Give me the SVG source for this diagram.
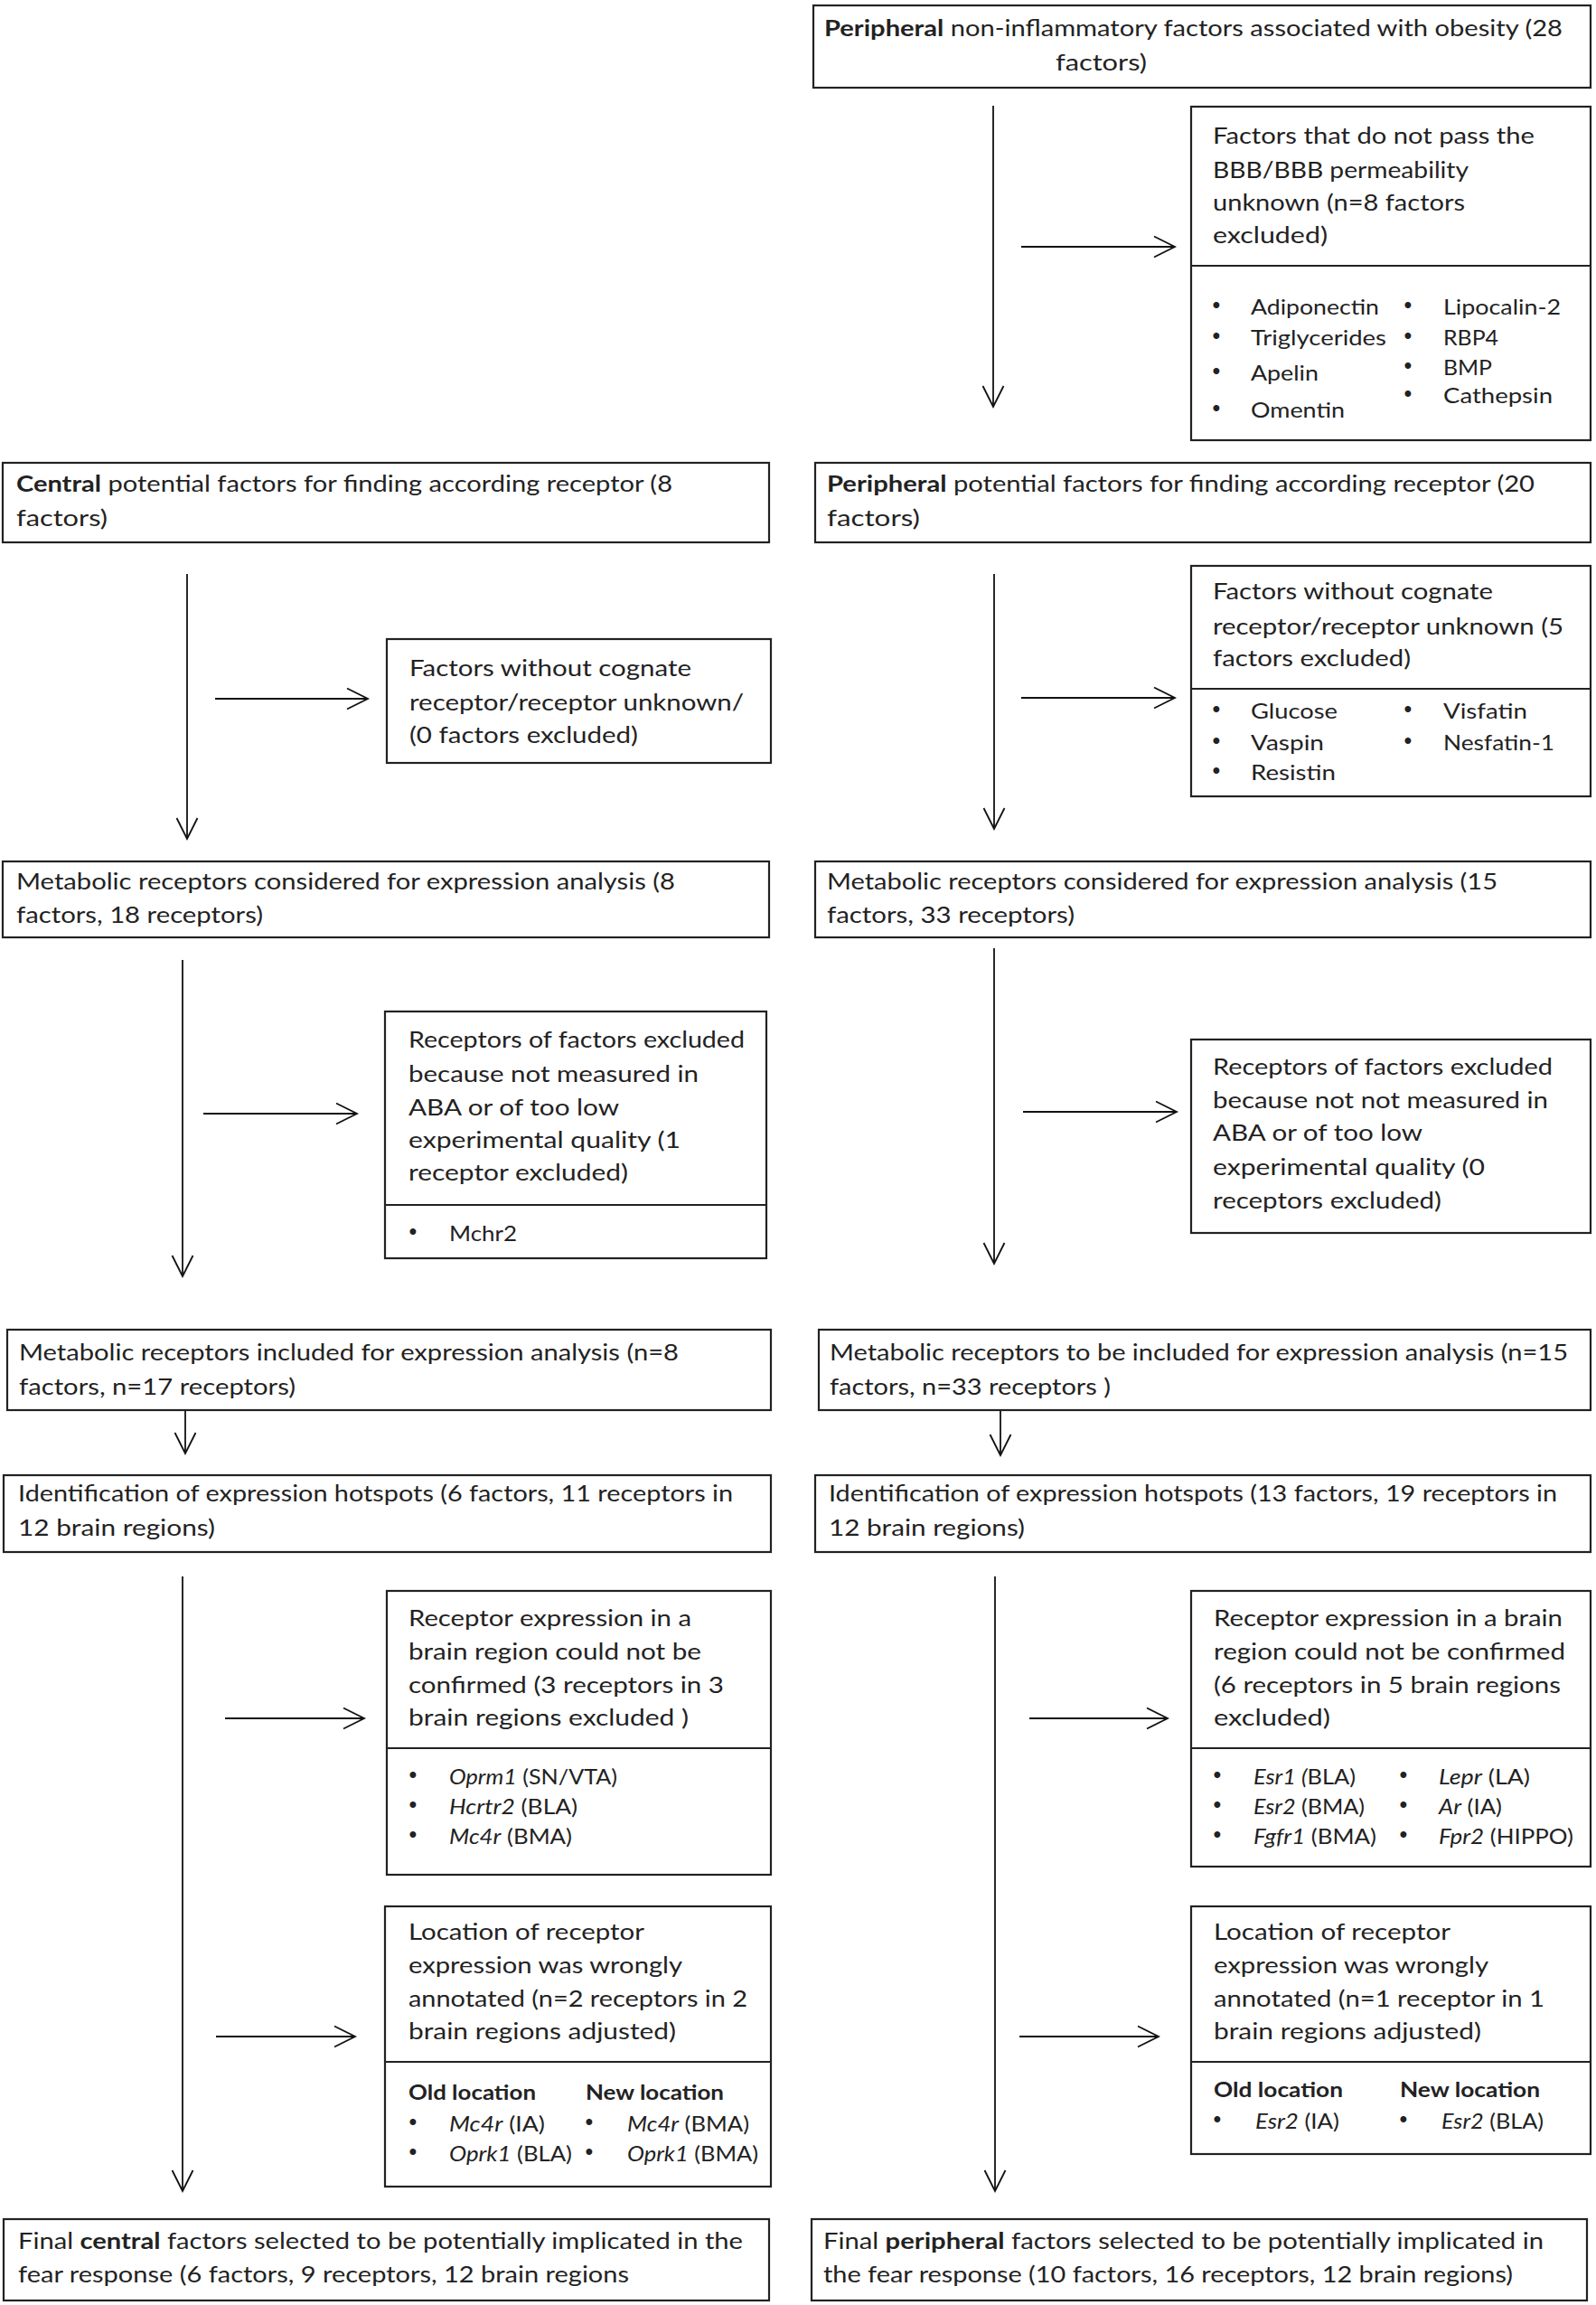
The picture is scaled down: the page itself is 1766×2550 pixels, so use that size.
<svg xmlns="http://www.w3.org/2000/svg" width="1766" height="2550" viewBox="0 0 1766 2550">
<defs>
<style>
.box{fill:#fff;stroke:#222;stroke-width:2.2}
.dv{stroke:#222;stroke-width:2.2}
.t{font-family:Lato,"Open Sans","Liberation Sans",sans-serif;font-size:25px;fill:#222}
.l{font-size:23px}
.b{font-weight:bold}
.i{font-style:italic}
.bu{font-family:"Liberation Sans",sans-serif;font-size:25px;fill:#222;text-anchor:middle}
.c{stroke:#111;stroke-width:1.8;fill:none;marker-end:url(#ah)}
</style>
<marker id="ah" markerUnits="userSpaceOnUse" markerWidth="30" markerHeight="30" viewBox="-27 -15 30 30" refX="0" refY="0" orient="auto">
<path d="M-23,-11.5 L0,0 L-23,11.5" fill="none" stroke="#111" stroke-width="1.8"/>
</marker>
</defs>
<rect x="0" y="0" width="1766" height="2550" fill="#fff"/>

<g id="connectors">
<line class="c" x1="1099" y1="117" x2="1099" y2="450"/>
<line class="c" x1="1130" y1="273" x2="1300" y2="273"/>
<line class="c" x1="207" y1="635" x2="207" y2="928"/>
<line class="c" x1="238" y1="773" x2="407" y2="773"/>
<line class="c" x1="1100" y1="635" x2="1100" y2="917"/>
<line class="c" x1="1130" y1="772" x2="1300" y2="772"/>
<line class="c" x1="202" y1="1062" x2="202" y2="1412"/>
<line class="c" x1="225" y1="1232" x2="395" y2="1232"/>
<line class="c" x1="1100" y1="1049" x2="1100" y2="1398"/>
<line class="c" x1="1132" y1="1230" x2="1302" y2="1230"/>
<line class="c" x1="205" y1="1549" x2="205" y2="1608"/>
<line class="c" x1="1107" y1="1551" x2="1107" y2="1610"/>
<line class="c" x1="202" y1="1744" x2="202" y2="2424"/>
<line class="c" x1="249" y1="1901" x2="403" y2="1901"/>
<line class="c" x1="239" y1="2253" x2="393" y2="2253"/>
<line class="c" x1="1101" y1="1744" x2="1101" y2="2424"/>
<line class="c" x1="1139" y1="1901" x2="1292" y2="1901"/>
<line class="c" x1="1128" y1="2253" x2="1282" y2="2253"/>
</g>

<g id="n-top">
<rect class="box" x="900" y="6" width="860" height="91"/>
<text class="t" x="912" y="40" textLength="817" lengthAdjust="spacingAndGlyphs"><tspan class="b">Peripheral</tspan>  non-inflammatory factors associated with obesity (28</text>
<text class="t" x="1168" y="78" textLength="101" lengthAdjust="spacingAndGlyphs">factors)</text>
</g>

<g id="n-bbb">
<rect class="box" x="1318" y="118" width="442" height="369"/>
<line class="dv" x1="1318" y1="294" x2="1760" y2="294"/>
<text class="t" x="1342" y="159" textLength="356" lengthAdjust="spacingAndGlyphs">Factors that do not pass the</text>
<text class="t" x="1342" y="197" textLength="283" lengthAdjust="spacingAndGlyphs">BBB/BBB permeability</text>
<text class="t" x="1342" y="233" textLength="279" lengthAdjust="spacingAndGlyphs">unknown (n=8 factors</text>
<text class="t" x="1342" y="269" textLength="127" lengthAdjust="spacingAndGlyphs">excluded)</text>
<text class="bu" x="1346" y="346">•</text>
<text class="bu" x="1346" y="380">•</text>
<text class="bu" x="1346" y="419">•</text>
<text class="bu" x="1346" y="460">•</text>
<text class="bu" x="1558" y="346">•</text>
<text class="bu" x="1558" y="380">•</text>
<text class="bu" x="1558" y="413">•</text>
<text class="bu" x="1558" y="444">•</text>
<text class="t l" x="1384" y="348" textLength="142" lengthAdjust="spacingAndGlyphs">Adiponectin</text>
<text class="t l" x="1384" y="382" textLength="150" lengthAdjust="spacingAndGlyphs">Triglycerides</text>
<text class="t l" x="1384" y="421" textLength="75" lengthAdjust="spacingAndGlyphs">Apelin</text>
<text class="t l" x="1384" y="462" textLength="104" lengthAdjust="spacingAndGlyphs">Omentin</text>
<text class="t l" x="1597" y="348" textLength="130" lengthAdjust="spacingAndGlyphs">Lipocalin-2</text>
<text class="t l" x="1597" y="382" textLength="61" lengthAdjust="spacingAndGlyphs">RBP4</text>
<text class="t l" x="1597" y="415" textLength="54" lengthAdjust="spacingAndGlyphs">BMP</text>
<text class="t l" x="1597" y="446" textLength="121" lengthAdjust="spacingAndGlyphs">Cathepsin</text>
</g>

<g id="n-central">
<rect class="box" x="3" y="512" width="848" height="88"/>
<text class="t" x="18" y="544" textLength="726" lengthAdjust="spacingAndGlyphs"><tspan class="b">Central</tspan>  potential factors for finding according receptor (8</text>
<text class="t" x="18" y="582" textLength="101" lengthAdjust="spacingAndGlyphs">factors)</text>
</g>

<g id="n-peripheral">
<rect class="box" x="902" y="512" width="858" height="88"/>
<text class="t" x="915" y="544" textLength="783" lengthAdjust="spacingAndGlyphs"><tspan class="b">Peripheral</tspan>  potential factors for finding according receptor (20</text>
<text class="t" x="915" y="582" textLength="103" lengthAdjust="spacingAndGlyphs">factors)</text>
</g>

<g id="n-cognate-c">
<rect class="box" x="428" y="707" width="425" height="137"/>
<text class="t" x="453" y="748" textLength="312" lengthAdjust="spacingAndGlyphs">Factors without cognate</text>
<text class="t" x="453" y="786" textLength="370" lengthAdjust="spacingAndGlyphs">receptor/receptor unknown/</text>
<text class="t" x="453" y="822" textLength="253" lengthAdjust="spacingAndGlyphs">(0 factors excluded)</text>
</g>

<g id="n-cognate-p">
<rect class="box" x="1318" y="626" width="442" height="255"/>
<line class="dv" x1="1318" y1="762" x2="1760" y2="762"/>
<text class="t" x="1342" y="663" textLength="310" lengthAdjust="spacingAndGlyphs">Factors without cognate</text>
<text class="t" x="1342" y="702" textLength="388" lengthAdjust="spacingAndGlyphs">receptor/receptor unknown (5</text>
<text class="t" x="1342" y="737" textLength="219" lengthAdjust="spacingAndGlyphs">factors excluded)</text>
<text class="bu" x="1346" y="793">•</text>
<text class="bu" x="1346" y="828">•</text>
<text class="bu" x="1346" y="861">•</text>
<text class="bu" x="1558" y="793">•</text>
<text class="bu" x="1558" y="828">•</text>
<text class="t l" x="1384" y="795" textLength="96" lengthAdjust="spacingAndGlyphs">Glucose</text>
<text class="t l" x="1384" y="830" textLength="81" lengthAdjust="spacingAndGlyphs">Vaspin</text>
<text class="t l" x="1384" y="863" textLength="94" lengthAdjust="spacingAndGlyphs">Resistin</text>
<text class="t l" x="1597" y="795" textLength="93" lengthAdjust="spacingAndGlyphs">Visfatin</text>
<text class="t l" x="1597" y="830" textLength="123" lengthAdjust="spacingAndGlyphs">Nesfatin-1</text>
</g>

<g id="n-metab-c">
<rect class="box" x="3" y="953" width="848" height="84"/>
<text class="t" x="18" y="984" textLength="729" lengthAdjust="spacingAndGlyphs">Metabolic receptors considered for expression analysis (8</text>
<text class="t" x="18" y="1021" textLength="273" lengthAdjust="spacingAndGlyphs">factors, 18 receptors)</text>
</g>

<g id="n-metab-p">
<rect class="box" x="902" y="953" width="858" height="84"/>
<text class="t" x="915" y="984" textLength="742" lengthAdjust="spacingAndGlyphs">Metabolic receptors considered for expression analysis (15</text>
<text class="t" x="915" y="1021" textLength="274" lengthAdjust="spacingAndGlyphs">factors, 33 receptors)</text>
</g>

<g id="n-aba-c">
<rect class="box" x="426" y="1119" width="422" height="273"/>
<line class="dv" x1="426" y1="1333" x2="848" y2="1333"/>
<text class="t" x="452" y="1159" textLength="372" lengthAdjust="spacingAndGlyphs">Receptors of factors excluded</text>
<text class="t" x="452" y="1197" textLength="321" lengthAdjust="spacingAndGlyphs">because not measured in</text>
<text class="t" x="452" y="1234" textLength="233" lengthAdjust="spacingAndGlyphs">ABA  or of too low</text>
<text class="t" x="452" y="1270" textLength="301" lengthAdjust="spacingAndGlyphs">experimental quality (1</text>
<text class="t" x="452" y="1306" textLength="243" lengthAdjust="spacingAndGlyphs">receptor excluded)</text>
<text class="bu" x="457" y="1371">•</text>
<text class="t l" x="497" y="1373" textLength="75" lengthAdjust="spacingAndGlyphs">Mchr2</text>
</g>

<g id="n-aba-p">
<rect class="box" x="1318" y="1150" width="442" height="214"/>
<text class="t" x="1342" y="1189" textLength="376" lengthAdjust="spacingAndGlyphs">Receptors of factors excluded</text>
<text class="t" x="1342" y="1226" textLength="371" lengthAdjust="spacingAndGlyphs">because not not measured in</text>
<text class="t" x="1342" y="1262" textLength="232" lengthAdjust="spacingAndGlyphs">ABA  or of too low</text>
<text class="t" x="1342" y="1300" textLength="301" lengthAdjust="spacingAndGlyphs">experimental quality (0</text>
<text class="t" x="1342" y="1337" textLength="253" lengthAdjust="spacingAndGlyphs">receptors excluded)</text>
</g>

<g id="n-incl-c">
<rect class="box" x="8" y="1471" width="845" height="89"/>
<text class="t" x="21" y="1505" textLength="730" lengthAdjust="spacingAndGlyphs">Metabolic receptors included for expression analysis (n=8</text>
<text class="t" x="21" y="1543" textLength="306" lengthAdjust="spacingAndGlyphs">factors, n=17 receptors)</text>
</g>

<g id="n-incl-p">
<rect class="box" x="906" y="1471" width="854" height="89"/>
<text class="t" x="918" y="1505" textLength="817" lengthAdjust="spacingAndGlyphs">Metabolic receptors to be included for expression analysis (n=15</text>
<text class="t" x="918" y="1543" textLength="311" lengthAdjust="spacingAndGlyphs">factors, n=33 receptors )</text>
</g>

<g id="n-hot-c">
<rect class="box" x="4" y="1632" width="849" height="85"/>
<text class="t" x="20" y="1661" textLength="791" lengthAdjust="spacingAndGlyphs">Identification of expression hotspots (6 factors, 11 receptors in</text>
<text class="t" x="20" y="1699" textLength="218" lengthAdjust="spacingAndGlyphs">12 brain regions)</text>
</g>

<g id="n-hot-p">
<rect class="box" x="902" y="1632" width="858" height="85"/>
<text class="t" x="917" y="1661" textLength="806" lengthAdjust="spacingAndGlyphs">Identification of expression hotspots (13 factors, 19 receptors in</text>
<text class="t" x="917" y="1699" textLength="217" lengthAdjust="spacingAndGlyphs">12 brain regions)</text>
</g>

<g id="n-conf-c">
<rect class="box" x="428" y="1760" width="425" height="314"/>
<line class="dv" x1="428" y1="1934" x2="853" y2="1934"/>
<text class="t" x="452" y="1799" textLength="313" lengthAdjust="spacingAndGlyphs">Receptor expression in a</text>
<text class="t" x="452" y="1836" textLength="324" lengthAdjust="spacingAndGlyphs">brain region could not be</text>
<text class="t" x="452" y="1873" textLength="349" lengthAdjust="spacingAndGlyphs">confirmed  (3 receptors in 3</text>
<text class="t" x="452" y="1909" textLength="310" lengthAdjust="spacingAndGlyphs">brain regions  excluded )</text>
<text class="bu" x="457" y="1972">•</text>
<text class="bu" x="457" y="2005">•</text>
<text class="bu" x="457" y="2038">•</text>
<text class="t l" x="497" y="1974" textLength="186" lengthAdjust="spacingAndGlyphs"><tspan class="i">Oprm1</tspan> (SN/VTA)</text>
<text class="t l" x="497" y="2007" textLength="142" lengthAdjust="spacingAndGlyphs"><tspan class="i">Hcrtr2</tspan> (BLA)</text>
<text class="t l" x="497" y="2040" textLength="136" lengthAdjust="spacingAndGlyphs"><tspan class="i">Mc4r</tspan> (BMA)</text>
</g>

<g id="n-loc-c">
<rect class="box" x="426" y="2109" width="427" height="310"/>
<line class="dv" x1="426" y1="2281" x2="853" y2="2281"/>
<text class="t" x="452" y="2146" textLength="261" lengthAdjust="spacingAndGlyphs">Location of receptor</text>
<text class="t" x="452" y="2183" textLength="303" lengthAdjust="spacingAndGlyphs">expression was wrongly</text>
<text class="t" x="452" y="2220" textLength="375" lengthAdjust="spacingAndGlyphs">annotated (n=2 receptors in 2</text>
<text class="t" x="452" y="2256" textLength="296" lengthAdjust="spacingAndGlyphs">brain regions adjusted)</text>
<text class="t l b" x="452" y="2323" textLength="141" lengthAdjust="spacingAndGlyphs">Old location</text>
<text class="t l b" x="648" y="2323" textLength="153" lengthAdjust="spacingAndGlyphs">New location</text>
<text class="bu" x="457" y="2356">•</text>
<text class="bu" x="457" y="2389">•</text>
<text class="bu" x="652" y="2356">•</text>
<text class="bu" x="652" y="2389">•</text>
<text class="t l" x="497" y="2358" textLength="106" lengthAdjust="spacingAndGlyphs"><tspan class="i">Mc4r</tspan> (IA)</text>
<text class="t l" x="497" y="2391" textLength="136" lengthAdjust="spacingAndGlyphs"><tspan class="i">Oprk1</tspan> (BLA)</text>
<text class="t l" x="694" y="2358" textLength="135" lengthAdjust="spacingAndGlyphs"><tspan class="i">Mc4r</tspan> (BMA)</text>
<text class="t l" x="694" y="2391" textLength="145" lengthAdjust="spacingAndGlyphs"><tspan class="i">Oprk1</tspan> (BMA)</text>
</g>

<g id="n-conf-p">
<rect class="box" x="1318" y="1760" width="442" height="305"/>
<line class="dv" x1="1318" y1="1934" x2="1760" y2="1934"/>
<text class="t" x="1343" y="1799" textLength="386" lengthAdjust="spacingAndGlyphs">Receptor expression in a brain</text>
<text class="t" x="1343" y="1836" textLength="389" lengthAdjust="spacingAndGlyphs">region could not be confirmed</text>
<text class="t" x="1343" y="1873" textLength="384" lengthAdjust="spacingAndGlyphs">(6 receptors in 5 brain regions</text>
<text class="t" x="1343" y="1909" textLength="129" lengthAdjust="spacingAndGlyphs">excluded)</text>
<text class="bu" x="1347" y="1972">•</text>
<text class="bu" x="1347" y="2005">•</text>
<text class="bu" x="1347" y="2038">•</text>
<text class="bu" x="1553" y="1972">•</text>
<text class="bu" x="1553" y="2005">•</text>
<text class="bu" x="1553" y="2038">•</text>
<text class="t l" x="1387" y="1974" textLength="113" lengthAdjust="spacingAndGlyphs"><tspan class="i">Esr1 (</tspan>BLA)</text>
<text class="t l" x="1387" y="2007" textLength="123" lengthAdjust="spacingAndGlyphs"><tspan class="i">Esr2</tspan> (BMA)</text>
<text class="t l" x="1387" y="2040" textLength="136" lengthAdjust="spacingAndGlyphs"><tspan class="i">Fgfr1</tspan> (BMA)</text>
<text class="t l" x="1592" y="1974" textLength="101" lengthAdjust="spacingAndGlyphs"><tspan class="i">Lepr</tspan> (LA)</text>
<text class="t l" x="1592" y="2007" textLength="70" lengthAdjust="spacingAndGlyphs"><tspan class="i">Ar</tspan> (IA)</text>
<text class="t l" x="1592" y="2040" textLength="149" lengthAdjust="spacingAndGlyphs"><tspan class="i">Fpr2</tspan> (HIPPO)</text>
</g>

<g id="n-loc-p">
<rect class="box" x="1318" y="2109" width="442" height="274"/>
<line class="dv" x1="1318" y1="2281" x2="1760" y2="2281"/>
<text class="t" x="1343" y="2146" textLength="262" lengthAdjust="spacingAndGlyphs">Location of receptor</text>
<text class="t" x="1343" y="2183" textLength="304" lengthAdjust="spacingAndGlyphs">expression was wrongly</text>
<text class="t" x="1343" y="2220" textLength="366" lengthAdjust="spacingAndGlyphs">annotated (n=1 receptor in 1</text>
<text class="t" x="1343" y="2256" textLength="296" lengthAdjust="spacingAndGlyphs">brain regions adjusted)</text>
<text class="t l b" x="1343" y="2320" textLength="143" lengthAdjust="spacingAndGlyphs">Old location</text>
<text class="t l b" x="1549" y="2320" textLength="155" lengthAdjust="spacingAndGlyphs">New location</text>
<text class="bu" x="1347" y="2353">•</text>
<text class="bu" x="1553" y="2353">•</text>
<text class="t l" x="1389" y="2355" textLength="93" lengthAdjust="spacingAndGlyphs"><tspan class="i">Esr2</tspan> (IA)</text>
<text class="t l" x="1595" y="2355" textLength="113" lengthAdjust="spacingAndGlyphs"><tspan class="i">Esr2</tspan> (BLA)</text>
</g>

<g id="n-final-c">
<rect class="box" x="4" y="2455" width="847" height="90"/>
<text class="t" x="20" y="2488" textLength="802" lengthAdjust="spacingAndGlyphs">Final <tspan class="b">central</tspan> factors selected to be potentially implicated in the</text>
<text class="t" x="20" y="2525" textLength="676" lengthAdjust="spacingAndGlyphs">fear response (6 factors, 9 receptors, 12 brain regions</text>
</g>

<g id="n-final-p">
<rect class="box" x="898" y="2455" width="858" height="90"/>
<text class="t" x="911" y="2488" textLength="797" lengthAdjust="spacingAndGlyphs">Final <tspan class="b">peripheral</tspan> factors selected to be potentially implicated in</text>
<text class="t" x="911" y="2525" textLength="763" lengthAdjust="spacingAndGlyphs">the fear response (10 factors, 16 receptors, 12 brain regions)</text>
</g>
</svg>
